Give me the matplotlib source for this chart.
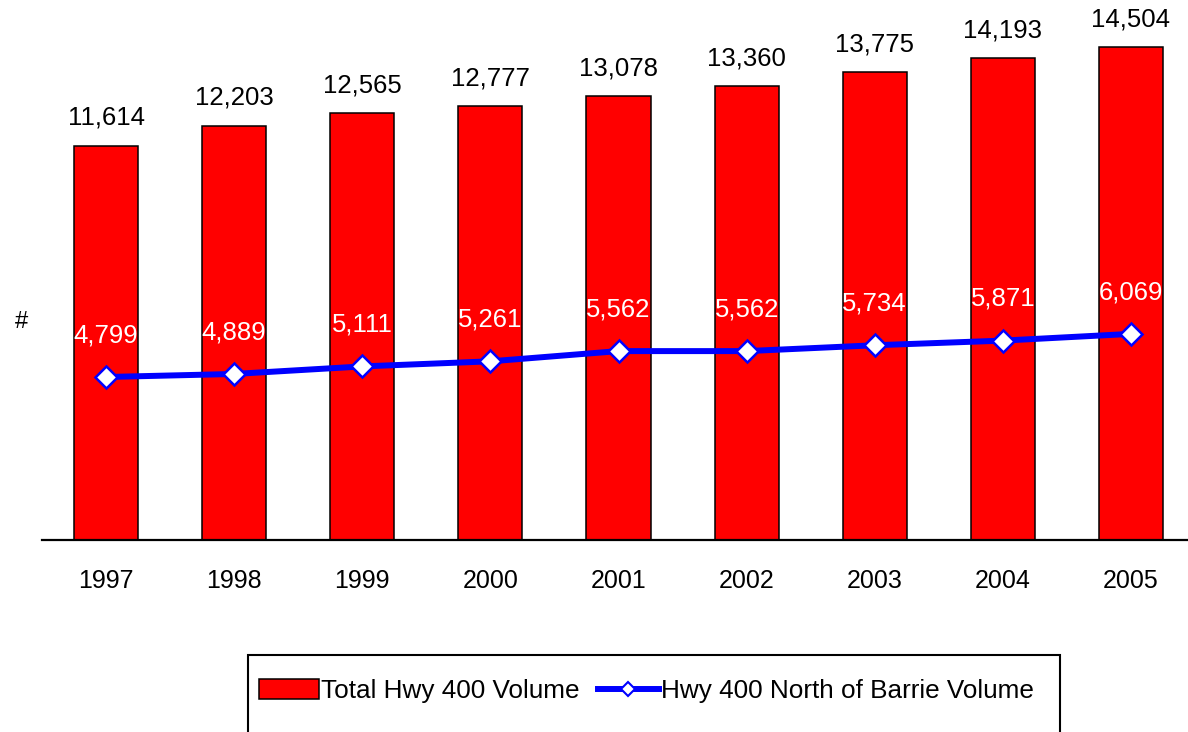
import numpy as np
import matplotlib.pyplot as plt
from matplotlib.patches import Rectangle, Patch
from matplotlib.lines import Line2D

plt.rcParams['font.family'] = ['Liberation Sans', 'DejaVu Sans']

years = ['1997', '1998', '1999', '2000', '2001', '2002', '2003', '2004', '2005']
total_volume = [11614, 12203, 12565, 12777, 13078, 13360, 13775, 14193, 14504]
north_volume = [4799, 4889, 5111, 5261, 5562, 5562, 5734, 5871, 6069]

fig = plt.figure(figsize=(11.88, 7.32), dpi=100)
# axes run a little past the right edge so the last slot is cut like the original
ax = fig.add_axes([42 / 1188, 1 - 540 / 732, 1153 / 1188, 540 / 732])

x = np.arange(len(years))
ax.bar(x, total_volume, width=0.5, color='#ff0000', edgecolor='black',
       linewidth=1.1, zorder=2)
ax.plot(x, north_volume, color='#0000ff', linewidth=4.3, marker='D', markersize=11,
        markerfacecolor='white', markeredgecolor='#0000ff', markeredgewidth=1.8,
        zorder=3)

for xi, v in zip(x, total_volume):
    ax.annotate(f'{v:,}', (xi, v), xytext=(0, 20), textcoords='offset points',
                ha='center', va='center', fontsize=18.5, color='black')
for xi, v in zip(x, north_volume):
    ax.annotate(f'{v:,}', (xi, v), xytext=(0, 30), textcoords='offset points',
                ha='center', va='center', fontsize=18.5, color='white', zorder=4)

ax.set_xlim(-0.5, len(years) - 0.5)
ax.set_ylim(0, 15900)
ax.set_xticks(x)
ax.set_xticklabels(years, fontsize=18)
ax.tick_params(axis='x', length=0, pad=21)
ax.set_yticks([])
for side in ['top', 'right', 'left']:
    ax.spines[side].set_visible(False)
ax.spines['bottom'].set_linewidth(1.6)
ax.spines['bottom'].set_zorder(4)

fig.text(15 / 1188, 1 - 322 / 732, '#', fontsize=17, ha='left', va='center')

# legend box at the bottom, runs off the lower edge
fig.patches.append(Rectangle((248 / 1188, -0.05), (1060 - 248) / 1188, (732 - 655) / 732 + 0.05,
                             transform=fig.transFigure, fill=False, edgecolor='black',
                             linewidth=1.5))
handles = [
    Patch(facecolor='#ff0000', edgecolor='black', linewidth=1.1),
    Line2D([], [], color='#0000ff', linewidth=4.3, marker='D', markersize=7,
           markerfacecolor='white', markeredgecolor='#0000ff', markeredgewidth=1.5),
]
labels = ['Total Hwy 400 Volume', 'Hwy 400 North of Barrie Volume']
fig.legend(handles, labels, loc='center left', bbox_to_anchor=(259 / 1188, 1 - 691 / 732),
           ncol=2, frameon=False, fontsize=18.8, handlelength=2.3, handleheight=0.76,
           handletextpad=0.08, columnspacing=0.72, borderpad=0, borderaxespad=0)

fig.savefig('out.png', dpi=100)
